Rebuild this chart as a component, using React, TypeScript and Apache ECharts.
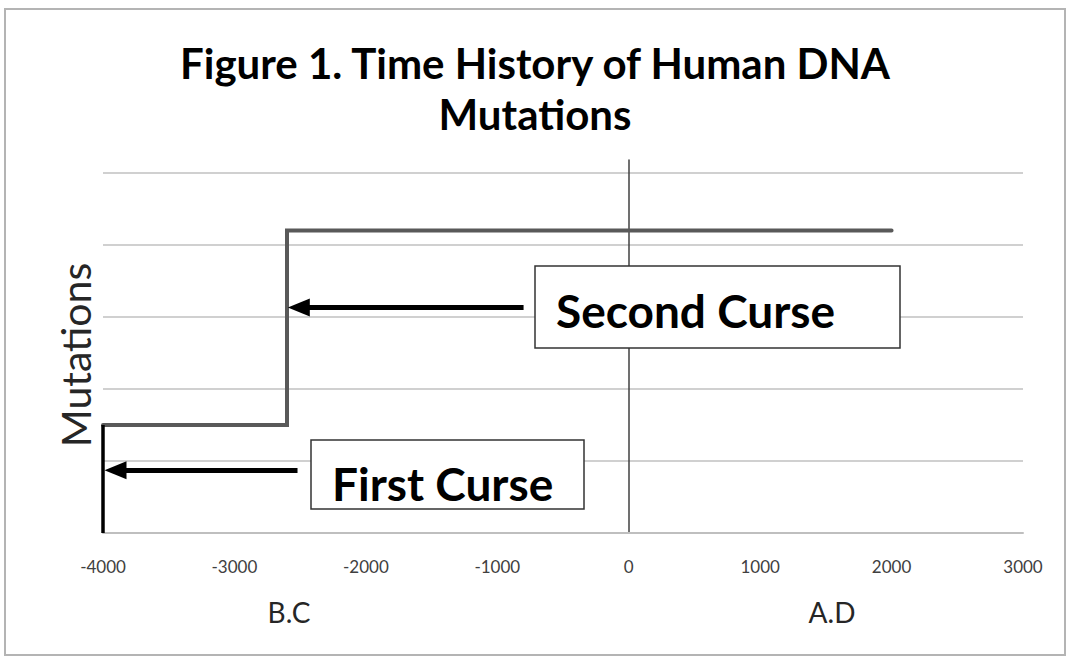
import React, { useEffect, useRef } from "react";
import * as echarts from "echarts";

const titleLines = ["Figure 1. Time History of Human DNA", "Mutations"];
const yAxisName = "Mutations";
const xTicks = [-4000, -3000, -2000, -1000, 0, 1000, 2000, 3000];
const eraLabels = ["B.C", "A.D"];
// Mutation level over time (step history)
const mutationYears = [-4000, -2600, -2600, 2000];
const mutationLevels = [15, 15, 42, 42];
const firstCurseYears = [-4000, -4000];
const firstCurseLevels = [0, 15];
// arrows: [tipYear, tailYear, level]
const secondCurseArrow = [-2510, -800, 31.3];
const firstCurseArrow = [-3905, -2520, 8.7];
const annotations = ["Second Curse", "First Curse"];

const FONT = "Lato, 'Open Sans', sans-serif";

export default function App() {
  const ref = useRef<HTMLDivElement>(null);
  useEffect(() => {
    document.body.style.margin = "0";
    const chart = echarts.init(ref.current!, null, { renderer: "svg" });
    const mainData = mutationYears.map((x, i) => [x, mutationLevels[i]]);
    const firstData = firstCurseYears.map((x, i) => [x, firstCurseLevels[i]]);
    chart.setOption({
      animation: false,
      backgroundColor: "#ffffff",
      title: {
        text: titleLines.join("\n"),
        left: "center",
        top: 32,
        textStyle: {
          fontFamily: FONT,
          fontWeight: "bold",
          fontSize: 42,
          lineHeight: 51,
          color: "#000000",
        },
      },
      grid: { left: 103, right: 47, top: 160, bottom: 127 },
      xAxis: {
        type: "value",
        min: -4000,
        max: 3000,
        interval: 1000,
        axisLine: { show: true, lineStyle: { color: "#bfbfbf", width: 2 } },
        axisTick: { show: false },
        splitLine: { show: false },
        axisLabel: {
          color: "#404040",
          fontFamily: FONT,
          fontSize: 17,
          margin: 25,
          formatter: (v: number) => (xTicks.includes(v) ? String(v) : ""),
        },
      },
      yAxis: {
        type: "value",
        min: 0,
        max: 51.8,
        interval: 10,
        axisLine: { show: true, onZero: true, lineStyle: { color: "#404040", width: 1.5 } },
        axisTick: { show: false },
        axisLabel: { show: false },
        splitLine: { show: true, showMaxLine: false, lineStyle: { color: "#c0c0c0", width: 1.5 } },
      },
      series: [
        {
          type: "line",
          data: mainData,
          symbol: "none",
          lineStyle: { color: "#595959", width: 4, cap: "round", join: "miter" },
          z: 3,
          markLine: {
            silent: true,
            symbol: ["triangle", "none"],
            symbolSize: [18, 22],
            label: { show: false },
            lineStyle: { color: "#000000", width: 5, type: "solid" },
            data: [
              [
                { coord: [secondCurseArrow[0], secondCurseArrow[2]] },
                { coord: [secondCurseArrow[1], secondCurseArrow[2]] },
              ],
              [
                { coord: [firstCurseArrow[0], firstCurseArrow[2]] },
                { coord: [firstCurseArrow[1], firstCurseArrow[2]] },
              ],
            ],
          },
        },
        {
          type: "line",
          data: firstData,
          symbol: "none",
          lineStyle: { color: "#000000", width: 3.5 },
          z: 4,
        },
      ],
      graphic: [
        {
          type: "rect",
          shape: { x: 5, y: 9, width: 1060, height: 646 },
          style: { fill: "none", stroke: "#b4b4b4", lineWidth: 2 },
          silent: true,
        },
        {
          type: "text",
          x: 75,
          y: 355,
          rotation: Math.PI / 2,
          style: {
            text: yAxisName,
            fontFamily: FONT,
            fontSize: 41,
            fill: "#262626",
            align: "center",
            verticalAlign: "middle",
          },
        },
        {
          type: "text",
          x: 289,
          y: 612,
          style: { text: eraLabels[0], fontFamily: FONT, fontSize: 28, fill: "#262626", align: "center", verticalAlign: "middle" },
        },
        {
          type: "text",
          x: 832,
          y: 612,
          style: { text: eraLabels[1], fontFamily: FONT, fontSize: 28, fill: "#262626", align: "center", verticalAlign: "middle" },
        },
        {
          type: "rect",
          z: 100,
          shape: { x: 535, y: 266, width: 365, height: 82 },
          style: { fill: "#ffffff", stroke: "#333333", lineWidth: 1.5 },
        },
        {
          type: "text",
          z: 101,
          x: 556,
          y: 310,
          style: { text: annotations[0], fontFamily: FONT, fontWeight: "bold", fontSize: 46, fill: "#000000", align: "left", verticalAlign: "middle" },
        },
        {
          type: "rect",
          z: 100,
          shape: { x: 311, y: 440, width: 273, height: 69 },
          style: { fill: "#ffffff", stroke: "#333333", lineWidth: 1.5 },
        },
        {
          type: "text",
          z: 101,
          x: 332,
          y: 483,
          style: { text: annotations[1], fontFamily: FONT, fontWeight: "bold", fontSize: 46, fill: "#000000", align: "left", verticalAlign: "middle" },
        },
      ],
    });
    return () => chart.dispose();
  }, []);
  return <div ref={ref} style={{ width: 1070, height: 660 }} />;
}
